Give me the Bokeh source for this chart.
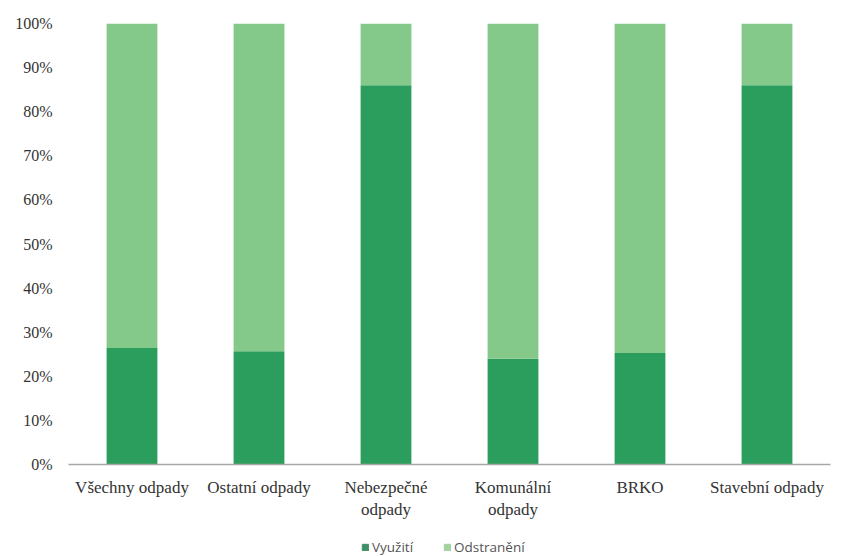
from bokeh.plotting import figure
from bokeh.layouts import column
from bokeh.models import (ColumnDataSource, FactorRange, PrintfTickFormatter, Legend,
                          LegendItem, FixedTicker, Range1d)
from bokeh.embed import file_html
from bokeh.resources import INLINE

categories = ["Všechny odpady", "Ostatní odpady", "Nebezpečné\nodpady",
              "Komunální\nodpady", "BRKO", "Stavební odpady"]
vyuziti = [26.4, 25.7, 86.0, 24.0, 25.3, 86.0]
odstraneni = [73.6, 74.3, 14.0, 76.0, 74.7, 14.0]
series = ["Využití", "Odstranění"]
colors = ["#2b9e5d", "#84c98a"]
legend_colors = ["#3f8f68", "#a3d1a0"]
y_ticks = [0, 10, 20, 30, 40, 50, 60, 70, 80, 90, 100]

src = ColumnDataSource({"cat": categories, series[0]: vyuziti, series[1]: odstraneni})

p = figure(x_range=FactorRange(*categories), y_range=(0, 100),
           width=845, height=530, output_backend="svg", toolbar_location=None,
           min_border_left=68, min_border_right=15, min_border_top=23, min_border_bottom=66)

p.vbar_stack(series, x="cat", width=0.4, color=colors, line_color=None, source=src)

p.xgrid.visible = False
p.ygrid.visible = False
p.outline_line_color = None

p.yaxis.ticker = FixedTicker(ticks=y_ticks)
p.yaxis.formatter = PrintfTickFormatter(format="%d%%")
p.yaxis.axis_line_color = None
p.yaxis.major_tick_line_color = None
p.yaxis.minor_tick_line_color = None
p.yaxis.major_label_text_font = "Liberation Serif"
p.yaxis.major_label_text_font_size = "16px"
p.yaxis.major_label_text_color = "#333333"
p.yaxis.major_label_standoff = 10

p.xaxis.axis_line_color = "#a6a6a6"
p.xaxis.axis_line_width = 1.5
p.xaxis.major_tick_line_color = None
p.xaxis.minor_tick_line_color = None
p.xaxis.major_label_text_font = "Liberation Serif"
p.xaxis.major_label_text_font_size = "17px"
p.xaxis.major_label_text_color = "#333333"
p.xaxis.major_label_standoff = 7

# legend strip below the chart
lg = figure(width=845, height=26, output_backend="svg", toolbar_location=None,
            x_range=Range1d(0, 1), y_range=Range1d(0, 1),
            min_border_left=0, min_border_right=0, min_border_top=0, min_border_bottom=0)
lg.axis.visible = False
lg.grid.visible = False
lg.outline_line_color = None
off = ColumnDataSource(dict(l=[-3], r=[-2], b=[-3], t=[-2]))
g1 = lg.quad(left="l", right="r", bottom="b", top="t", color=legend_colors[0], source=off)
g2 = lg.quad(left="l", right="r", bottom="b", top="t", color=legend_colors[1], source=off)

legend = Legend(items=[LegendItem(label=series[0], renderers=[g1]),
                       LegendItem(label=series[1], renderers=[g2])],
                orientation="horizontal", location=(293, 0),
                label_text_font="Open Sans", label_text_font_size="13.5px",
                label_text_color="#555555", glyph_width=8, glyph_height=8,
                spacing=30, label_standoff=3, border_line_color=None,
                background_fill_alpha=0, padding=0, margin=0)
lg.add_layout(legend, "center")

layout = column(p, lg, spacing=0)
open("out.html", "w").write(file_html(layout, INLINE))
